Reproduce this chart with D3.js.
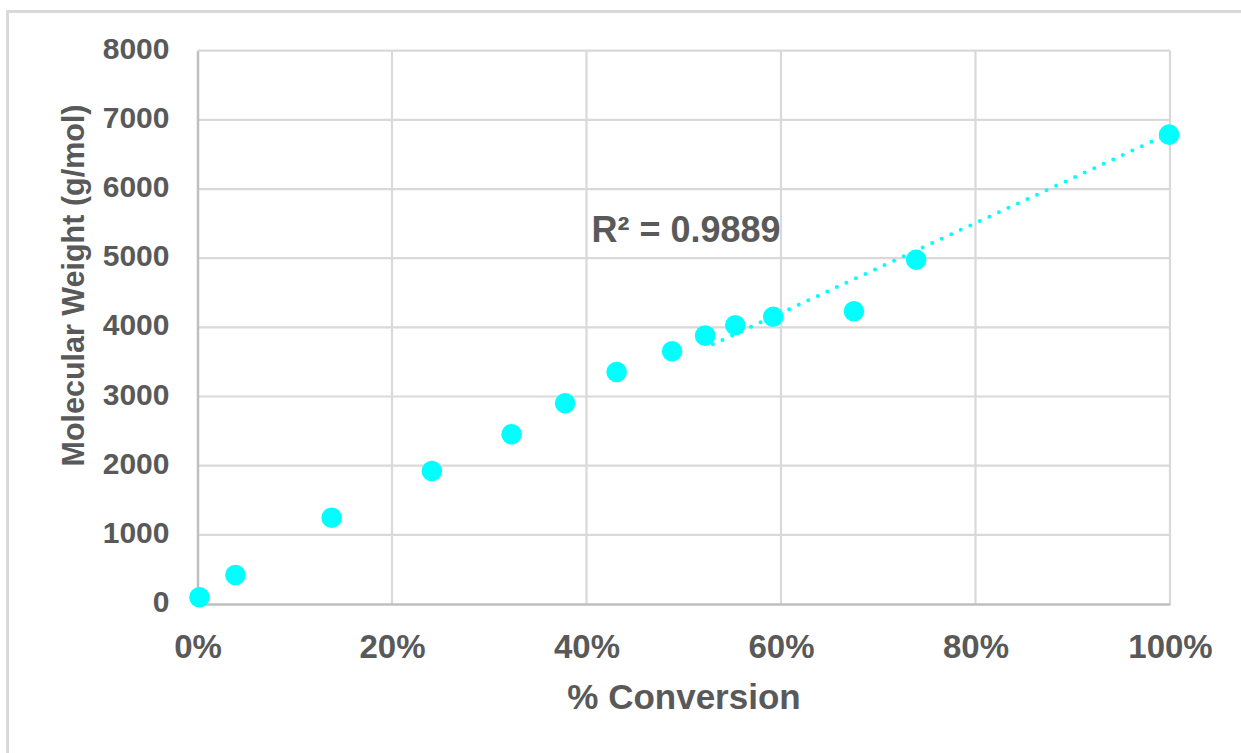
<!DOCTYPE html>
<html>
<head>
<meta charset="utf-8">
<script src="https://cdn.jsdelivr.net/npm/d3@7"></script>
<style>
  html, body { margin: 0; padding: 0; background: #fff; }
  svg { display: block; }
  text { font-family: "Liberation Sans", Arial, sans-serif; font-weight: bold; fill: #595959; }
</style>
</head>
<body>
<svg id="chart" width="1241" height="753"></svg>
<script>
// ---- data ----
const conversion = [0.002, 0.039, 0.138, 0.241, 0.323, 0.378, 0.431, 0.488, 0.522, 0.553, 0.592, 0.675, 0.739, 0.999];
const molWeight  = [97, 419, 1248, 1923, 2454, 2902, 3355, 3654, 3880, 4030, 4154, 4232, 4978, 6786];
const xTicks = [0, 0.2, 0.4, 0.6, 0.8, 1.0];
const yTicks = [0, 1000, 2000, 3000, 4000, 5000, 6000, 7000, 8000];
const rSquaredLabel = "R² = 0.9889";
const trendRange = [0.53, 1.0];
const xTitle = "% Conversion";
const yTitle = "Molecular Weight (g/mol)";

(function () {
// ---- layout ----
const svg = d3.select("#chart");
const pLeft = 197.5, pRight = 1170, pTop = 50.7, pBottom = 604;

const x = d3.scaleLinear().domain([0, 1]).range([pLeft, pRight]);
const y = d3.scaleLinear().domain([0, 8000]).range([pBottom, pTop]);

// outer chart border
svg.append("rect")
  .attr("x", 7.5).attr("y", 11.5)
  .attr("width", 1300).attr("height", 800)
  .attr("fill", "none").attr("stroke", "#d9d9d9").attr("stroke-width", 3);

// gridlines
const grid = svg.append("g");
grid.selectAll("line.h").data(yTicks.filter(d => d > 0)).enter().append("line")
  .attr("x1", pLeft).attr("x2", pRight)
  .attr("y1", d => y(d)).attr("y2", d => y(d))
  .attr("stroke", "#d9d9d9").attr("stroke-width", 2.2);
grid.selectAll("line.v").data(xTicks.filter(d => d > 0)).enter().append("line")
  .attr("y1", pTop).attr("y2", pBottom)
  .attr("x1", d => x(d)).attr("x2", d => x(d))
  .attr("stroke", "#d9d9d9").attr("stroke-width", 2.2);

// axes via d3 (domain lines styled, ticks hidden)
const xAxis = svg.append("g").attr("transform", `translate(0,${pBottom})`)
  .call(d3.axisBottom(x).tickValues(xTicks).tickSize(0).tickPadding(0).tickFormat(d3.format(".0%")));
xAxis.select(".domain").attr("stroke", "#bfbfbf").attr("stroke-width", 2.5);
xAxis.selectAll("text").attr("font-size", 33).attr("dy", null).attr("y", 53.5)
  .style("font-family", '"Liberation Sans", Arial, sans-serif').style("font-weight", "bold").attr("fill", "#595959");

const yAxis = svg.append("g").attr("transform", `translate(${pLeft},0)`)
  .call(d3.axisLeft(y).tickValues(yTicks).tickSize(0).tickPadding(0).tickFormat(d3.format("d")));
yAxis.select(".domain").attr("stroke", "#bfbfbf").attr("stroke-width", 2.5);
yAxis.selectAll("text").attr("font-size", 30).attr("x", -28).attr("dy", "0.32em")
  .style("font-family", '"Liberation Sans", Arial, sans-serif').style("font-weight", "bold").attr("fill", "#595959")
  .attr("transform", "translate(0,-2)");

// linear regression trendline computed from the data
const mx = d3.mean(conversion), my = d3.mean(molWeight);
let sxy = 0, sxx = 0;
conversion.forEach((c, i) => { sxy += (c - mx) * (molWeight[i] - my); sxx += (c - mx) * (c - mx); });
const slope = sxy / sxx, intercept = my - slope * mx;
const line = d3.line().x(d => x(d)).y(d => y(slope * d + intercept));

// markers
svg.append("g").selectAll("circle").data(conversion).enter().append("circle")
  .attr("cx", d => x(d))
  .attr("cy", (d, i) => y(molWeight[i]))
  .attr("r", 10.3)
  .attr("fill", "#00ffff");

svg.append("path")
  .attr("d", line(trendRange))
  .attr("fill", "none")
  .attr("stroke", "#00ffff")
  .attr("stroke-width", 4)
  .attr("stroke-linecap", "round")
  .attr("stroke-dasharray", "0 10.5");

// R² label
svg.append("text").attr("x", 591.5).attr("y", 242).attr("font-size", 36).text(rSquaredLabel);

// axis titles
svg.append("text").attr("x", 684).attr("y", 709).attr("text-anchor", "middle")
  .attr("font-size", 35).text(xTitle);
svg.append("text").attr("transform", "translate(83.5,285.5) rotate(-90)")
  .attr("text-anchor", "middle").attr("font-size", 30.5).text(yTitle);
})();
</script>
</body>
</html>
